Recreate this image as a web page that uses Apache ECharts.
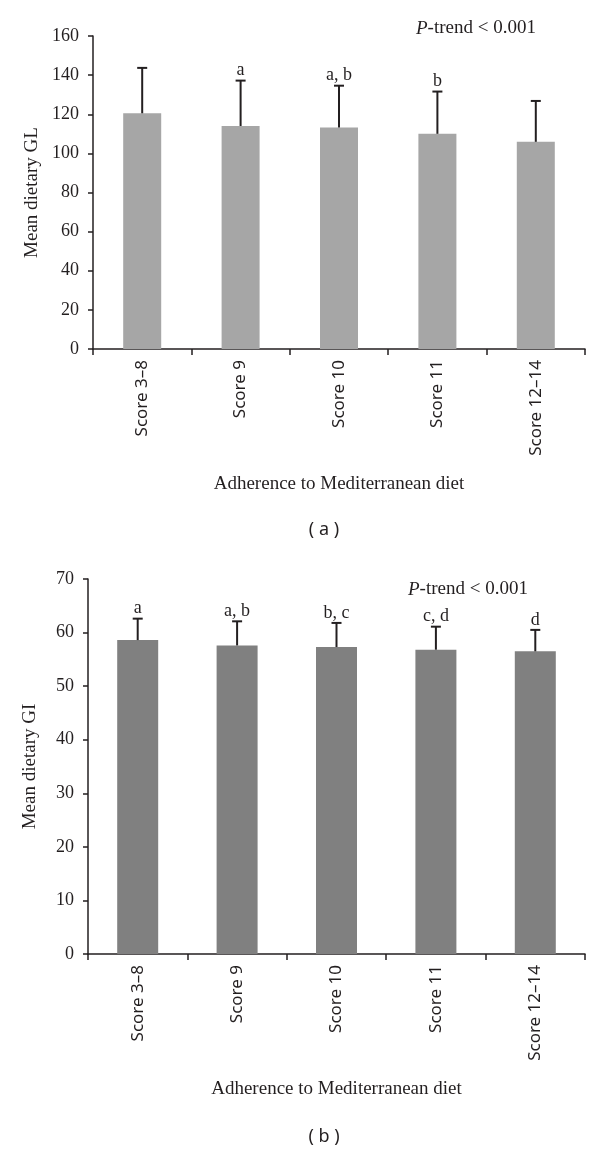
<!DOCTYPE html>
<html>
<head>
<meta charset="utf-8">
<script src="https://cdn.jsdelivr.net/npm/echarts@6/dist/echarts.min.js"></script>
<style>
html,body{margin:0;padding:0;background:#fff;}
#chart{width:600px;height:1153px;}
</style>
</head>
<body>
<div id="chart"></div>
<script>
// ---- data ----
var categories = ['Score 3\u20138', 'Score 9', 'Score 10', 'Score 11', 'Score 12\u201314'];
var glMean = [120.5, 114.0, 113.2, 110.0, 105.9];
var glUpper = [143.7, 137.2, 134.6, 131.6, 126.8];
var glLetters = ['', 'a', 'a, b', 'b', ''];
var giMean = [58.6, 57.6, 57.3, 56.8, 56.5];
var giUpper = [62.6, 62.1, 61.8, 61.1, 60.5];
var giLetters = ['a', 'a, b', 'b, c', 'c, d', 'd'];
var glTicks = {min: 0, max: 160, interval: 20};
var giTicks = {min: 0, max: 70, interval: 10};

var INK = '#231f20';
var SERIF = '"Liberation Serif", "DejaVu Serif", serif';
var SANS = '"Noto Sans", "Liberation Sans", sans-serif';

function errData(means, uppers, letters) {
  return means.map(function (m, i) { return [i, m, uppers[i], letters[i]]; });
}
function renderErr(params, api) {
  var i = api.value(0);
  var p0 = api.coord([i, api.value(1)]);
  var p1 = api.coord([i, api.value(2)]);
  var letter = params.seriesIndex === 1 ? glLetters[i] : giLetters[i];
  var cap = 5;
  var children = [
    {type: 'line', shape: {x1: p0[0], y1: p0[1], x2: p1[0], y2: p1[1]}, style: {stroke: INK, lineWidth: 2}},
    {type: 'line', shape: {x1: p1[0] - cap, y1: p1[1], x2: p1[0] + cap, y2: p1[1]}, style: {stroke: INK, lineWidth: 2}}
  ];
  if (letter) {
    children.push({type: 'text', x: p1[0], y: p1[1] - 1, style: {text: letter, fill: INK, font: '18px ' + SERIF, textAlign: 'center', textVerticalAlign: 'bottom'}});
  }
  return {type: 'group', children: children};
}

function xAxisCfg(gridIndex) {
  return {
    type: 'category', gridIndex: gridIndex, data: categories,
    axisLine: {lineStyle: {color: INK, width: 1.5}},
    axisTick: {show: true, length: 6, lineStyle: {color: INK, width: 1.5}},
    axisLabel: {rotate: 90, margin: 11, color: INK, fontFamily: SANS, fontSize: 17},
    name: 'Adherence to Mediterranean diet', nameLocation: 'middle', nameGap: 126,
    nameTextStyle: {color: INK, fontFamily: SERIF, fontSize: 19}
  };
}
function yAxisCfg(gridIndex, t, name, gap) {
  return {
    type: 'value', gridIndex: gridIndex, min: t.min, max: t.max, interval: t.interval,
    axisLine: {show: true, lineStyle: {color: INK, width: 1.5}},
    axisTick: {show: true, length: 5, lineStyle: {color: INK, width: 1.5}},
    splitLine: {show: false},
    axisLabel: {margin: 14, color: INK, fontFamily: SERIF, fontSize: 18},
    name: name, nameLocation: 'middle', nameRotate: 90, nameGap: gap,
    nameTextStyle: {color: INK, fontFamily: SERIF, fontSize: 19}
  };
}

var chart = echarts.init(document.getElementById('chart'), null, {renderer: 'canvas'});
chart.setOption({
  backgroundColor: '#fff',
  animation: false,
  grid: [
    {left: 93, top: 36, width: 492, height: 313},
    {left: 88, top: 579, width: 497, height: 375}
  ],
  xAxis: [xAxisCfg(0), xAxisCfg(1)],
  yAxis: [yAxisCfg(0, glTicks, 'Mean dietary GL', 49), yAxisCfg(1, giTicks, 'Mean dietary GI', 48)],
  series: [
    {type: 'bar', xAxisIndex: 0, yAxisIndex: 0, data: glMean, barWidth: 38, itemStyle: {color: '#a6a6a6'}},
    {type: 'custom', xAxisIndex: 0, yAxisIndex: 0, data: errData(glMean, glUpper, glLetters), renderItem: renderErr, z: 5},
    {type: 'bar', xAxisIndex: 1, yAxisIndex: 1, data: giMean, barWidth: 41, itemStyle: {color: '#808080'}},
    {type: 'custom', xAxisIndex: 1, yAxisIndex: 1, data: errData(giMean, giUpper, giLetters), renderItem: renderErr, z: 5}
  ],
  graphic: [
    {type: 'text', left: 416, top: 19, style: {text: '{i|P}-trend < 0.001', rich: {i: {fontStyle: 'italic', fontFamily: SERIF, fontSize: 19, fill: INK}}, font: '19px ' + SERIF, fill: INK}},
    {type: 'text', left: 408, top: 580, style: {text: '{i|P}-trend < 0.001', rich: {i: {fontStyle: 'italic', fontFamily: SERIF, fontSize: 19, fill: INK}}, font: '19px ' + SERIF, fill: INK}},
    {type: 'text', x: 324, y: 530, style: {text: '( a )', font: '18px ' + SANS, fill: INK, textAlign: 'center', textVerticalAlign: 'middle'}},
    {type: 'text', x: 324, y: 1137, style: {text: '( b )', font: '18px ' + SANS, fill: INK, textAlign: 'center', textVerticalAlign: 'middle'}}
  ]
});
</script>
</body>
</html>
